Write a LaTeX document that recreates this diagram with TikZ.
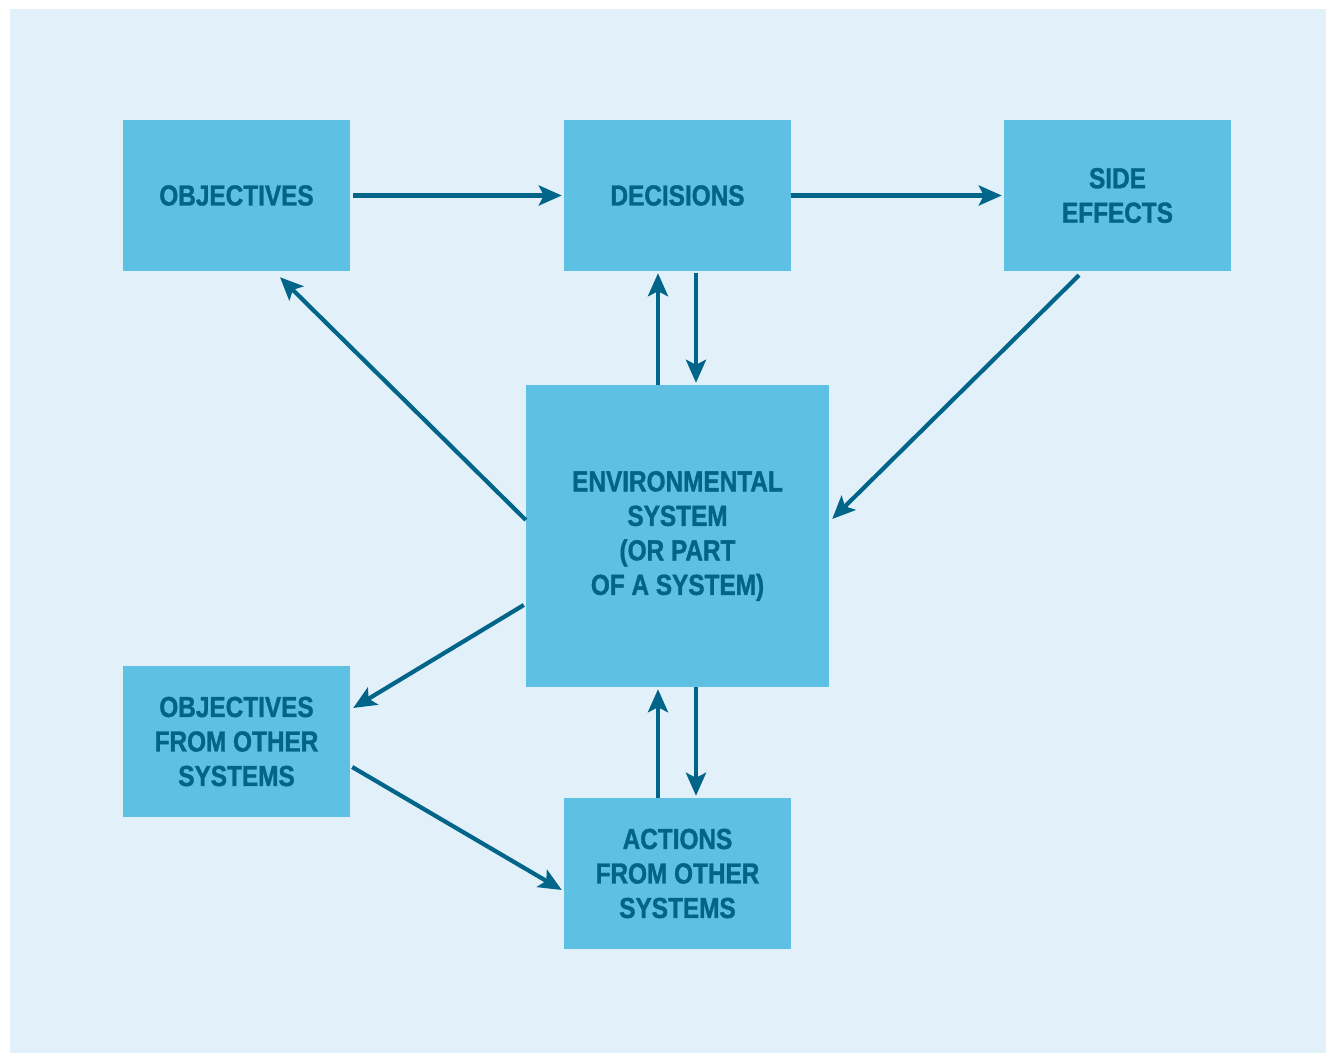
\documentclass[tikz,border=0pt]{standalone}
\usepackage{fontspec}
\newfontfamily\lblfont[FakeStretch=0.84,FakeBold=1.2]{Liberation Sans}
\usetikzlibrary{arrows.meta,calc}
\definecolor{bgc}{HTML}{E2F0F9}
\definecolor{boxc}{HTML}{5EC0E3}
\definecolor{inkc}{HTML}{006589}
\tikzset{
  box/.style={fill=boxc, draw=none, minimum width=227pt, minimum height=151pt,
    inner sep=0pt, align=center, text=inkc,
    font=\lblfont\bfseries\fontsize{29}{34.5}\selectfont},
  conn/.style={draw=inkc, line width=4.2pt,
    -{Stealth[length=23pt,width=20pt,inset=5pt]}}
}
\begin{document}
\begin{tikzpicture}[x=1pt,y=-1pt]
\useasboundingbox (0,0) rectangle (1326,1053);
\fill[bgc] (10,9) rectangle (1326,1053);
\node[box] (obj) at (236.5,195.5) {OBJECTIVES};
\node[box] (dec) at (677.5,195.5) {DECISIONS};
\node[box] (side) at (1117.5,195.5) {SIDE\\EFFECTS};
\node[box, minimum width=303pt, minimum height=302pt] (env) at (677.5,536) {ENVIRONMENTAL\\SYSTEM\\(OR PART\\OF A SYSTEM)};
\node[box] (objo) at (236.5,741.5) {OBJECTIVES\\FROM OTHER\\SYSTEMS};
\node[box] (act) at (677.5,873.5) {ACTIONS\\FROM OTHER\\SYSTEMS};
% horizontal arrows
\draw[conn] ($(obj.east)+(3,0)$) -- ($(dec.west)+(-2,0)$);
\draw[conn] (dec.east) -- ($(side.west)+(-2,0)$);
% vertical pairs top
\draw[conn] (658,0 |- env.north) -- ($(658,0 |- dec.south)+(0,2)$);
\draw[conn] ($(696,0 |- dec.south)+(0,2)$) -- ($(696,0 |- env.north)+(0,-2)$);
% vertical pairs bottom
\draw[conn] (658,0 |- act.north) -- ($(658,0 |- env.south)+(0,2)$);
\draw[conn] (696,0 |- env.south) -- ($(696,0 |- act.north)+(0,-2)$);
% diagonals
\draw[conn] ($(1079,0 |- side.south)+(0,4)$) -- ($(env.east |- 0,519)+(3,0)$);
\draw[conn] (env.west |- 0,520) -- ($(280,0 |- obj.south)+(0,6)$);
\draw[conn] ($(env.west |- 0,605)+(-2,0)$) -- ($(objo.east |- 0,708)+(3,0)$);
\draw[conn] ($(objo.east |- 0,767)+(2,0)$) -- ($(act.west |- 0,890)+(-2,0)$);
\end{tikzpicture}
\end{document}
